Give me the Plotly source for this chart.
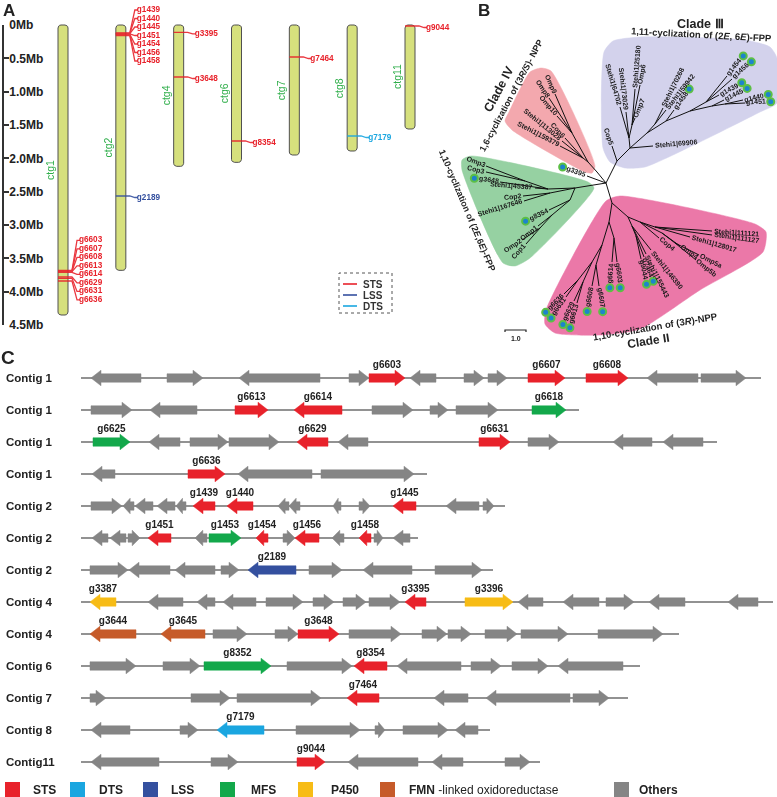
import math
import plotly.graph_objects as go

FIG_W, FIG_H = 777, 797
FONT = "Arial, Liberation Sans, sans-serif"
# the photographed page maps the figure into rows 7..790 of the picture
Y_OFF, Y_SPAN = 7, 783

TYPE_COLORS = {"STS": "#e8222b", "DTS": "#1aa6e0", "LSS": "#34509f", "MFS": "#13a84b",
               "P450": "#f7bc16", "FMN": "#c65b2a", "O": "#858585"}

# ======================= Panel A data =======================
CONTIG_NAMES = ["ctg1", "ctg2", "ctg4", "ctg6", "ctg7", "ctg8", "ctg11"]
CONTIG_LENGTH_MB = [4.35, 3.68, 2.12, 2.06, 1.95, 1.89, 1.56]
MB_TICK_VALUES = [0, 0.5, 1.0, 1.5, 2.0, 2.5, 3.0, 3.5, 4.0, 4.5]
MB_TICK_LABELS = ["0Mb", "0.5Mb", "1.0Mb", "1.5Mb", "2.0Mb", "2.5Mb", "3.0Mb", "3.5Mb", "4.0Mb", "4.5Mb"]

A_GENE_NAMES = ["g6603", "g6607", "g6608", "g6613", "g6614", "g6629", "g6631", "g6636",
                "g1439", "g1440", "g1445", "g1451", "g1454", "g1456", "g1458", "g2189",
                "g3395", "g3648", "g8354", "g7464", "g7179", "g9044"]
A_GENE_CONTIG = ["ctg1"] * 8 + ["ctg2"] * 8 + ["ctg4", "ctg4", "ctg6", "ctg7", "ctg8", "ctg11"]
A_GENE_POS_MB = [3.68, 3.69, 3.695, 3.70, 3.71, 3.78, 3.80, 3.84,
                 0.12, 0.125, 0.13, 0.135, 0.14, 0.15, 0.16, 2.565,
                 0.11, 0.78, 1.74, 0.48, 1.665, 0.015]
A_GENE_TYPE = ["STS"] * 15 + ["LSS"] + ["STS"] * 4 + ["DTS", "STS"]
A_LEGEND_TYPES = ["STS", "LSS", "DTS"]

# ======================= Panel B data (tree, branch end points) =======================
TREE_INTERNAL = [
    ("R", 606, 183, None),
    ("I0", 575, 188, "R"), ("I1", 548, 189, "I0"), ("I2", 525, 181, "I1"),
    ("I3", 550, 193, "I0"), ("I4", 570, 200, "I0"), ("I5", 552, 215, "I4"), ("I6", 540, 228, "I5"),
    ("IV0", 597, 172, "R"), ("IV1", 588, 162, "IV0"), ("IV2", 572, 133, "IV1"), ("IV3", 583, 158, "IV1"),
    ("III0", 617, 161, "R"), ("III1", 630, 148, "III0"), ("III2", 629, 138, "III1"), ("III3", 632, 125, "III2"),
    ("III4", 647, 133, "III1"), ("III5", 655, 124, "III4"), ("III6", 666, 121, "III4"), ("III7", 690, 111, "III6"),
    ("III8", 706, 102, "III7"), ("III9", 712, 106, "III7"), ("III10", 725, 104, "III9"),
    ("II0", 612, 203, "R"), ("II1", 628, 217, "II0"), ("II2", 640, 222, "II1"), ("II3", 655, 227, "II2"),
    ("II4", 662, 233, "II2"), ("II5", 675, 243, "II4"), ("II6", 632, 226, "II1"), ("II7", 636, 236, "II6"),
    ("II8", 609, 222, "II0"), ("II9", 614, 238, "II8"), ("II10", 602, 245, "II8"), ("II11", 596, 265, "II10"),
    ("II12", 592, 262, "II10"), ("II13", 583, 282, "II12"), ("II14", 578, 280, "II12"),
]
TREE_TIPS = [
    ("Omp3", 486, 166, "I2"), ("Cop3", 486, 172, "I2"), ("g3648", 500, 182, "I1"), ("Stehi1|45387", 535, 188, "I1"),
    ("Cop2", 523, 196, "I3"), ("Stehi1|167646", 524, 201, "I3"),
    ("g8354", 549, 210, "I4"), ("Omp1", 538, 226, "I5"), ("Omp2", 522, 240, "I6"), ("Cop1", 526, 244, "I6"),
    ("Omp9", 555, 94, "IV2"), ("Omp8", 549, 98, "IV2"), ("Omp10", 557, 116, "IV2"),
    ("Cop6", 565, 138, "IV3"), ("Stehi1|113028", 562, 141, "IV3"), ("Stehi1|159379", 560, 146, "IV3"),
    ("g3395", 587, 176, "R"),
    ("Cop5", 612, 146, "III0"), ("Stehi1|69906", 653, 146, "III1"),
    ("Stehi1|64702", 620, 107, "III2"), ("Stehi1|73029", 626, 112, "III2"),
    ("Stehi1|25180", 635, 89, "III3"), ("Omp6", 640, 85, "III3"), ("Omp7", 635, 118, "III3"),
    ("Stehi1|70268", 663, 108, "III5"), ("Stehi1|59942", 666, 110, "III5"),
    ("g1458", 674, 110, "III6"),
    ("g1454", 727, 76, "III8"), ("g1456", 732, 79, "III8"), ("g1439", 719, 95, "III8"),
    ("g1445", 724, 100, "III9"), ("g1440", 743, 100, "III10"), ("g1451", 745, 103, "III10"),
    ("Stehi1|111121", 712, 231, "II3"), ("Stehi1|111127", 712, 235, "II3"), ("Stehi1|128017", 690, 237, "II3"),
    ("Cop4", 659, 238, "II2"), ("Omp4", 680, 246, "II4"), ("Omp5a", 699, 255, "II5"), ("Omp5b", 696, 260, "II5"),
    ("Stehi1|146390", 651, 250, "II6"), ("Stehi1|155443", 646, 254, "II6"),
    ("g7464", 644, 257, "II7"), ("g9044", 641, 259, "II7"),
    ("g6603", 617, 262, "II9"), ("g6614", 612, 262, "II9"),
    ("g6607", 599, 286, "II11"), ("g6608", 592, 286, "II11"),
    ("g6613", 577, 303, "II13"), ("g6629", 574, 301, "II13"),
    ("g6631", 566, 297, "II14"), ("g6636", 564, 294, "II14"),
]
CLADE_COLORS = {"IV": "#f3a8ae", "III": "#d3d2ec", "I": "#96d1a2", "II": "#eb78a8"}
CLADE_OUTLINES = {
    "IV": [(530, 72), (541, 68), (551, 71), (595, 166), (592, 173), (585, 172), (512, 130), (505, 121), (509, 112)],
    "III": [(604, 52), (613, 41), (640, 37), (745, 40), (770, 47), (777, 58), (777, 103), (760, 112),
            (700, 142), (645, 167), (625, 168), (610, 162), (603, 148)],
    "I": [(462, 160), (471, 156), (588, 182), (594, 188), (530, 258), (515, 266), (503, 263), (462, 170)],
    "II": [(606, 201), (620, 196), (755, 224), (766, 232), (763, 252), (700, 290), (640, 329), (600, 335),
           (555, 333), (545, 324), (546, 310)],
}
SCALE_BAR_LEN = 21   # tree units for a branch length of 1.0

# ======================= Panel C data =======================
C_ROW_LABELS = ["Contig 1", "Contig 1", "Contig 1", "Contig 1", "Contig 2", "Contig 2", "Contig 2",
                "Contig 4", "Contig 4", "Contig 6", "Contig 7", "Contig 8", "Contig11"]
C_ROW_LENGTHS = [680, 498, 636, 346, 424, 337, 412, 692, 598, 559, 547, 409, 459]

# (start, end, strand, type, name)
C_ROW01 = [(10, 60, -1, "O", ""), (86, 122, 1, "O", ""), (158, 239, -1, "O", ""), (268, 288, 1, "O", ""),
           (288, 324, 1, "STS", "g6603"), (329, 355, -1, "O", ""), (383, 403, 1, "O", ""), (407, 426, 1, "O", ""),
           (447, 484, 1, "STS", "g6607"), (505, 547, 1, "STS", "g6608"), (566, 617, -1, "O", ""),
           (620, 665, 1, "O", "")]
C_ROW02 = [(10, 51, 1, "O", ""), (69, 116, -1, "O", ""), (154, 187, 1, "STS", "g6613"),
           (213, 261, -1, "STS", "g6614"), (291, 332, 1, "O", ""), (349, 367, 1, "O", ""),
           (375, 417, 1, "O", ""), (451, 485, 1, "MFS", "g6618")]
C_ROW03 = [(12, 49, 1, "MFS", "g6625"), (68, 99, -1, "O", ""), (109, 147, 1, "O", ""), (148, 198, 1, "O", ""),
           (216, 247, -1, "STS", "g6629"), (257, 287, -1, "O", ""), (398, 429, 1, "STS", "g6631"),
           (447, 478, 1, "O", ""), (532, 571, -1, "O", ""), (582, 622, -1, "O", "")]
C_ROW04 = [(11, 34, -1, "O", ""), (107, 144, 1, "STS", "g6636"), (157, 231, -1, "O", ""), (240, 333, 1, "O", "")]
C_ROW05 = [(10, 41, 1, "O", ""), (42, 53, -1, "O", ""), (54, 72, -1, "O", ""), (76, 94, -1, "O", ""),
           (95, 105, -1, "O", ""), (112, 134, -1, "STS", "g1439"), (146, 172, -1, "STS", "g1440"),
           (197, 208, -1, "O", ""), (208, 219, -1, "O", ""), (252, 260, -1, "O", ""), (278, 289, 1, "O", ""),
           (312, 335, -1, "STS", "g1445"), (365, 398, -1, "O", ""), (402, 413, 1, "O", "")]
C_ROW06 = [(11, 27, -1, "O", ""), (29, 45, -1, "O", ""), (47, 59, 1, "O", ""), (67, 90, -1, "STS", "g1451"),
           (114, 126, -1, "O", ""), (128, 160, 1, "MFS", "g1453"), (175, 187, -1, "STS", "g1454"),
           (202, 214, 1, "O", ""), (214, 238, -1, "STS", "g1456"), (251, 263, -1, "O", ""),
           (278, 290, -1, "STS", "g1458"), (293, 302, 1, "O", ""), (312, 329, -1, "O", "")]
C_ROW07 = [(9, 47, 1, "O", ""), (48, 89, -1, "O", ""), (94, 134, -1, "O", ""), (140, 158, 1, "O", ""),
           (167, 215, -1, "LSS", "g2189"), (228, 261, 1, "O", ""), (282, 331, -1, "O", ""), (354, 401, 1, "O", "")]
C_ROW08 = [(9, 35, -1, "P450", "g3387"), (67, 102, -1, "O", ""), (116, 134, -1, "O", ""), (142, 175, -1, "O", ""),
           (185, 222, 1, "O", ""), (232, 253, 1, "O", ""), (262, 285, 1, "O", ""), (288, 319, 1, "O", ""),
           (324, 345, -1, "STS", "g3395"), (384, 432, 1, "P450", "g3396"), (437, 462, -1, "O", ""),
           (482, 518, -1, "O", ""), (525, 553, 1, "O", ""), (568, 604, -1, "O", ""), (647, 677, -1, "O", "")]
C_ROW09 = [(9, 55, -1, "FMN", "g3644"), (80, 124, -1, "FMN", "g3645"), (132, 166, 1, "O", ""),
           (194, 217, 1, "O", ""), (217, 258, 1, "STS", "g3648"), (268, 320, 1, "O", ""), (341, 366, 1, "O", ""),
           (367, 390, 1, "O", ""), (404, 436, 1, "O", ""), (440, 487, 1, "O", ""), (517, 582, 1, "O", "")]
C_ROW10 = [(9, 55, 1, "O", ""), (82, 119, 1, "O", ""), (123, 190, 1, "MFS", "g8352"), (206, 271, 1, "O", ""),
           (273, 306, -1, "STS", "g8354"), (316, 380, -1, "O", ""), (390, 420, 1, "O", ""),
           (431, 467, 1, "O", ""), (477, 542, -1, "O", "")]
C_ROW11 = [(9, 25, 1, "O", ""), (110, 149, 1, "O", ""), (156, 240, 1, "O", ""), (266, 298, -1, "STS", "g7464"),
           (353, 387, -1, "O", ""), (405, 489, -1, "O", ""), (492, 528, 1, "O", "")]
C_ROW12 = [(10, 49, -1, "O", ""), (99, 117, 1, "O", ""), (136, 183, -1, "DTS", "g7179"), (215, 279, 1, "O", ""),
           (294, 304, 1, "O", ""), (322, 367, 1, "O", ""), (374, 397, -1, "O", "")]
C_ROW13 = [(10, 78, -1, "O", ""), (130, 157, 1, "O", ""), (216, 244, 1, "STS", "g9044"), (267, 337, -1, "O", ""),
           (351, 382, -1, "O", ""), (424, 449, 1, "O", "")]
C_ROWS = [C_ROW01, C_ROW02, C_ROW03, C_ROW04, C_ROW05, C_ROW06, C_ROW07, C_ROW08, C_ROW09, C_ROW10,
          C_ROW11, C_ROW12, C_ROW13]
C_LEGEND_TYPES = ["STS", "DTS", "LSS", "MFS", "P450", "FMN", "O"]
C_LEGEND_LABELS = ["STS", "DTS", "LSS", "MFS", "P450", "<b>FMN</b> -linked oxidoreductase", "Others"]


# ======================= helpers =======================
def pxx(px):
    return px / FIG_W


def pxy(py):
    return 1 - (py - Y_OFF) / Y_SPAN


def text_w(s, fs):
    w = 0.0
    for ch in s:
        if ch in "il|.,: j1":
            w += 0.30 if ch != "1" else 0.556
        elif ch in "tfr()-/":
            w += 0.36
        elif ch == "m":
            w += 0.89
        elif ch.isupper():
            w += 0.70
        else:
            w += 0.57
    return w * fs


def rounded_rect(x0, x1, y0, y1, rx, ry, n=6):
    pts = []
    corners = [(x1 - rx, y0 + ry, -90, 0), (x1 - rx, y1 - ry, 0, 90),
               (x0 + rx, y1 - ry, 90, 180), (x0 + rx, y0 + ry, 180, 270)]
    for cx, cy, a0, a1 in corners:
        for k in range(n + 1):
            a = math.radians(a0 + (a1 - a0) * k / n)
            pts.append((cx + rx * math.cos(a), cy + ry * math.sin(a)))
    pts.append(pts[0])
    return pts


fig = go.Figure()
annotations = []
shapes = []

# ======================= Panel A =======================
A_FIRST_PX, A_LAST_PX = 63, 410
A_SLOT_PX = (A_LAST_PX - A_FIRST_PX) / (len(CONTIG_NAMES) - 1)
A_X0_PX, A_X1_PX = 4, 480
A_ZERO_PX, A_MB_PX = 25, 300 / 4.5
A_TOP_PX, A_BOT_PX = Y_OFF, 340
A_LABEL_TOP_PX = 10
x2_range = [(A_X0_PX - A_FIRST_PX) / A_SLOT_PX, (A_X1_PX - A_FIRST_PX) / A_SLOT_PX]
y2_range = [(A_BOT_PX - A_ZERO_PX) / A_MB_PX, (A_TOP_PX - A_ZERO_PX) / A_MB_PX]

fig.add_trace(go.Scatter(x=[0.5], y=[2], mode="markers", marker=dict(opacity=0),
                         xaxis="x", yaxis="y", hoverinfo="skip", showlegend=False))

hw = 5 / A_SLOT_PX
for i, (name, length) in enumerate(zip(CONTIG_NAMES, CONTIG_LENGTH_MB)):
    pts = rounded_rect(i - hw, i + hw, 0, length, 3 / A_SLOT_PX, 3 / A_MB_PX)
    fig.add_trace(go.Scatter(x=[p[0] for p in pts], y=[p[1] for p in pts], mode="lines",
                             fill="toself", fillcolor="#d6e07d", line=dict(color="#505050", width=1),
                             xaxis="x2", yaxis="y2", hoverinfo="skip", showlegend=False))
    annotations.append(dict(x=i - 13 / A_SLOT_PX, y=length / 2, xref="x2", yref="y2", text=name,
                            textangle=-90, showarrow=False,
                            font=dict(size=10.5, color="#2fae4a", family=FONT)))

contig_index = {n: i for i, n in enumerate(CONTIG_NAMES)}
by_contig = {}
for k, c in enumerate(A_GENE_CONTIG):
    by_contig.setdefault(c, []).append(k)

min_label_mb = (A_LABEL_TOP_PX - A_ZERO_PX) / A_MB_PX
seg = {t: ([], []) for t in A_LEGEND_TYPES}
lab = {t: ([], [], []) for t in A_LEGEND_TYPES}
for c, ks in by_contig.items():
    ks.sort(key=lambda k: A_GENE_POS_MB[k])
    groups = [[ks[0]]]
    for k in ks[1:]:
        if A_GENE_POS_MB[k] - A_GENE_POS_MB[groups[-1][-1]] < 0.25:
            groups[-1].append(k)
        else:
            groups.append([k])
    i = contig_index[c]
    for g in groups:
        n = len(g)
        if n == 1:
            lys = [A_GENE_POS_MB[g[0]] + 1.5 / A_MB_PX]
        else:
            m = sum(A_GENE_POS_MB[k] for k in g) / n - 4 / A_MB_PX
            lys = [m + (j - (n - 1) / 2) * 8.5 / A_MB_PX for j in range(n)]
            if lys[0] < min_label_mb:
                shift = min_label_mb - lys[0]
                lys = [v + shift for v in lys]
        for k, ly in zip(g, lys):
            p = A_GENE_POS_MB[k]
            t = A_GENE_TYPE[k]
            xs = [i - hw, i + hw, i + hw + 4 / A_SLOT_PX, i + hw + 9 / A_SLOT_PX, i + hw + 12 / A_SLOT_PX, None]
            ys = [p, p, p, ly, ly, None]
            seg[t][0].extend(xs)
            seg[t][1].extend(ys)
            lab[t][0].append(i + hw + 11 / A_SLOT_PX)
            lab[t][1].append(ly)
            lab[t][2].append("<b>" + A_GENE_NAMES[k] + "</b>")

for t in A_LEGEND_TYPES:
    fig.add_trace(go.Scatter(x=seg[t][0], y=seg[t][1], mode="lines",
                             line=dict(color=TYPE_COLORS[t], width=1.3), opacity=0.9,
                             xaxis="x2", yaxis="y2", hoverinfo="skip", showlegend=False))
    fig.add_trace(go.Scatter(x=lab[t][0], y=lab[t][1], text=lab[t][2], mode="text",
                             textposition="middle right",
                             textfont=dict(size=8.2, color=TYPE_COLORS[t], family=FONT),
                             xaxis="x2", yaxis="y2", hoverinfo="skip", showlegend=False, cliponaxis=False))

# Panel A legend box
shapes.append(dict(type="rect", xref="paper", yref="paper", x0=pxx(339), x1=pxx(392), y0=pxy(313), y1=pxy(273),
                   line=dict(color="#555", width=1, dash="dot")))
for j, t in enumerate(A_LEGEND_TYPES):
    yy = 284 + j * 11
    shapes.append(dict(type="line", xref="paper", yref="paper", x0=pxx(343), x1=pxx(357), y0=pxy(yy), y1=pxy(yy),
                       line=dict(color=TYPE_COLORS[t], width=1.6)))
    annotations.append(dict(x=pxx(361), y=pxy(yy), xref="paper", yref="paper", text="<b>" + t + "</b>",
                            xanchor="left", yanchor="middle", showarrow=False,
                            font=dict(size=10, color="#333", family=FONT)))

# ======================= Panel B =======================
nodes = {}
for name, x, y, parent in TREE_INTERNAL + TREE_TIPS:
    nodes[name] = (x, y, parent)

for cl, pts in CLADE_OUTLINES.items():
    fig.add_trace(go.Scatter(x=[p[0] for p in pts] + [pts[0][0]], y=[p[1] for p in pts] + [pts[0][1]],
                             mode="lines", fill="toself", fillcolor=CLADE_COLORS[cl],
                             line=dict(color=CLADE_COLORS[cl], width=0.5, shape="spline", smoothing=0.6),
                             xaxis="x3", yaxis="y3", hoverinfo="skip", showlegend=False))

bx, by = [], []
for name, (x, y, parent) in nodes.items():
    if parent:
        px_, py_, _ = nodes[parent]
        bx += [px_, x, None]
        by += [py_, y, None]
fig.add_trace(go.Scatter(x=bx, y=by, mode="lines", line=dict(color="#111", width=1),
                         xaxis="x3", yaxis="y3", hoverinfo="skip", showlegend=False))

TREE_FS = 7
dot_x, dot_y = [], []
for name, x, y, parent in TREE_TIPS:
    px_, py_, _ = nodes[parent]
    dx, dy = x - px_, y - py_
    d = math.hypot(dx, dy)
    ux, uy = dx / d, dy / d
    L = text_w(name, TREE_FS)
    cx, cy = x + ux * (1.5 + L / 2), y + uy * (1.5 + L / 2)
    ang = math.degrees(math.atan2(dy, dx))
    if dx < 0:
        ang = ang + 180 if ang < 0 else ang - 180
    annotations.append(dict(x=cx, y=cy, xref="x3", yref="y3", text="<b>" + name + "</b>", textangle=ang,
                            xanchor="center", yanchor="middle", showarrow=False, borderpad=0,
                            font=dict(size=TREE_FS, color="#1a1a1a", family=FONT)))
    if name.startswith("g"):
        dot_x.append(x + ux * (L + 6))
        dot_y.append(y + uy * (L + 6))
fig.add_trace(go.Scatter(x=dot_x, y=dot_y, mode="markers",
                         marker=dict(size=7, color="#1d84cc", line=dict(color="#5cbf45", width=2)),
                         xaxis="x3", yaxis="y3", hoverinfo="skip", showlegend=False, cliponaxis=False))

# scale bar
SB_X, SB_Y = 505, 330
fig.add_trace(go.Scatter(x=[SB_X, SB_X, SB_X + SCALE_BAR_LEN, SB_X + SCALE_BAR_LEN],
                         y=[SB_Y + 2, SB_Y, SB_Y, SB_Y + 2], mode="lines", line=dict(color="#222", width=1.2),
                         xaxis="x3", yaxis="y3", hoverinfo="skip", showlegend=False))
annotations.append(dict(x=SB_X + SCALE_BAR_LEN / 2, y=SB_Y + 8, xref="x3", yref="y3", text="<b>1.0</b>",
                        showarrow=False, font=dict(size=7, color="#222", family=FONT)))

CLADE_TITLES = [
    ("<b>Clade Ⅲ</b>", 700, 24, 0, 12.5),
    ("<b>1,11-cyclization of (2<i>E</i>, 6<i>E</i>)-FPP</b>", 701, 34, 3, 9.5),
    ("<b>Clade IV</b>", 499, 89, -62, 12.5),
    ("<b>1,6-cyclization of (3<i>R/S</i>)- NPP</b>", 511, 96, -62, 9),
    ("<b>1,10-cyclization of (2<i>E</i>,6<i>E</i>)-FPP</b>", 467, 210, 67, 9),
    ("<b>Clade I</b>", 453, 216, 67, 12.5),
    ("<b>1,10-cyclization of (3<i>R</i>)-NPP</b>", 655, 326, -9.7, 9.5),
    ("<b>Clade II</b>", 648, 341, -9, 12),
]
for txt, x, y, ang, fs in CLADE_TITLES:
    annotations.append(dict(x=x, y=y, xref="x3", yref="y3", text=txt, textangle=ang, showarrow=False,
                            xanchor="center", yanchor="middle", font=dict(size=fs, color="#222", family=FONT)))

# ======================= Panel C =======================
C_TOP_PX, C_BOT_PX, C_ROW0_PX, C_ROW_STEP = 350, Y_OFF + Y_SPAN, 378, 32
C_X0_PX = 81
y4_range = [(C_BOT_PX - C_ROW0_PX) / C_ROW_STEP, -(C_ROW0_PX - C_TOP_PX) / C_ROW_STEP]
BODY = 4.2 / C_ROW_STEP
HEAD = 7.8 / C_ROW_STEP

lx, ly = [], []
poly = {t: ([], []) for t in TYPE_COLORS}
gl_x, gl_y, gl_t = [], [], []
for r, (row, length) in enumerate(zip(C_ROWS, C_ROW_LENGTHS)):
    lx += [0, length, None]
    ly += [r, r, None]
    for (s, e, strand, t, name) in row:
        hl = min(10, 0.65 * (e - s))
        if strand > 0:
            xs = [s, e - hl, e - hl, e, e - hl, e - hl, s, s]
        else:
            xs = [e, s + hl, s + hl, s, s + hl, s + hl, e, e]
        ys = [r - BODY, r - BODY, r - HEAD, r, r + HEAD, r + BODY, r + BODY, r - BODY]
        poly[t][0].extend(xs + [None])
        poly[t][1].extend(ys + [None])
        if name:
            gl_x.append((s + e) / 2)
            gl_y.append(r - 13 / C_ROW_STEP)
            gl_t.append("<b>" + name + "</b>")
    annotations.append(dict(x=pxx(4), y=r, xref="paper", yref="y4", text="<b>" + C_ROW_LABELS[r] + "</b>",
                            xanchor="left", yanchor="middle", showarrow=False,
                            font=dict(size=11.5, color="#222", family=FONT)))

fig.add_trace(go.Scatter(x=lx, y=ly, mode="lines", line=dict(color="#6e6e6e", width=1.3),
                         xaxis="x4", yaxis="y4", hoverinfo="skip", showlegend=False))
for t, (xs, ys) in poly.items():
    if xs:
        fig.add_trace(go.Scatter(x=xs, y=ys, mode="lines", fill="toself", fillcolor=TYPE_COLORS[t],
                                 line=dict(color=TYPE_COLORS[t], width=0.5),
                                 xaxis="x4", yaxis="y4", hoverinfo="skip", showlegend=False))
fig.add_trace(go.Scatter(x=gl_x, y=gl_y, text=gl_t, mode="text", textposition="middle center",
                         textfont=dict(size=10, color="#222", family=FONT),
                         xaxis="x4", yaxis="y4", hoverinfo="skip", showlegend=False, cliponaxis=False))

# Panel C legend
LEG_SQ_X = [5, 70, 143, 220, 298, 380, 614]
LEG_TX_X = [31, 97, 169, 249, 329, 407, 637]
for t, lbl, sx, tx in zip(C_LEGEND_TYPES, C_LEGEND_LABELS, LEG_SQ_X, LEG_TX_X):
    shapes.append(dict(type="rect", xref="paper", yref="paper", x0=pxx(sx), x1=pxx(sx + 15),
                       y0=pxy(797), y1=pxy(782), fillcolor=TYPE_COLORS[t], line=dict(width=0)))
    annotations.append(dict(x=pxx(tx), y=pxy(790), xref="paper", yref="paper",
                            text=lbl if lbl.startswith("<b>") else "<b>" + lbl + "</b>",
                            xanchor="left", yanchor="middle", showarrow=False,
                            font=dict(size=12, color="#222", family=FONT)))

# Panel letters
for txt, x, y, fs in [("A", 9, 10, 17), ("B", 484, 10, 17), ("C", 8, 357, 19)]:
    annotations.append(dict(x=pxx(x), y=pxy(y), xref="paper", yref="paper", text="<b>" + txt + "</b>",
                            xanchor="center", yanchor="middle", showarrow=False,
                            font=dict(size=fs, color="#222", family=FONT)))

hidden = dict(visible=False, fixedrange=True, showgrid=False, zeroline=False)
fig.update_layout(
    width=FIG_W, height=FIG_H, margin=dict(l=0, r=0, t=0, b=0),
    paper_bgcolor="white", plot_bgcolor="rgba(0,0,0,0)", showlegend=False,
    xaxis=dict(domain=[pxx(A_X0_PX), pxx(A_X1_PX)], range=[0, 1], anchor="y", **hidden),
    yaxis=dict(domain=[pxy(325), pxy(25)], range=[4.5, 0], anchor="x", showline=True, linecolor="#333",
               linewidth=1.5, ticks="inside", ticklen=5, tickwidth=1.5, tickcolor="#333",
               tickvals=MB_TICK_VALUES, ticktext=["<b>" + t + "</b>" for t in MB_TICK_LABELS],
               ticklabelposition="inside", ticklabeloverflow="allow",
               tickfont=dict(size=12, color="#222", family=FONT), showgrid=False, zeroline=False,
               fixedrange=True),
    xaxis2=dict(domain=[pxx(A_X0_PX), pxx(A_X1_PX)], range=x2_range, anchor="y2", **hidden),
    yaxis2=dict(domain=[pxy(A_BOT_PX), pxy(A_TOP_PX)], range=y2_range, anchor="x2", **hidden),
    xaxis3=dict(domain=[pxx(460), 1], range=[460, FIG_W], anchor="y3", **hidden),
    yaxis3=dict(domain=[pxy(345), pxy(Y_OFF)], range=[345, Y_OFF], anchor="x3", **hidden),
    xaxis4=dict(domain=[pxx(C_X0_PX), 1], range=[0, FIG_W - C_X0_PX], anchor="y4", **hidden),
    yaxis4=dict(domain=[pxy(C_BOT_PX), pxy(C_TOP_PX)], range=y4_range, anchor="x4", **hidden),
    annotations=annotations, shapes=shapes,
)

fig.write_html("out.html", config={"displayModeBar": False},
               post_script="document.body.style.margin='0';document.documentElement.style.margin='0';"
                           "document.body.style.overflow='hidden';")
